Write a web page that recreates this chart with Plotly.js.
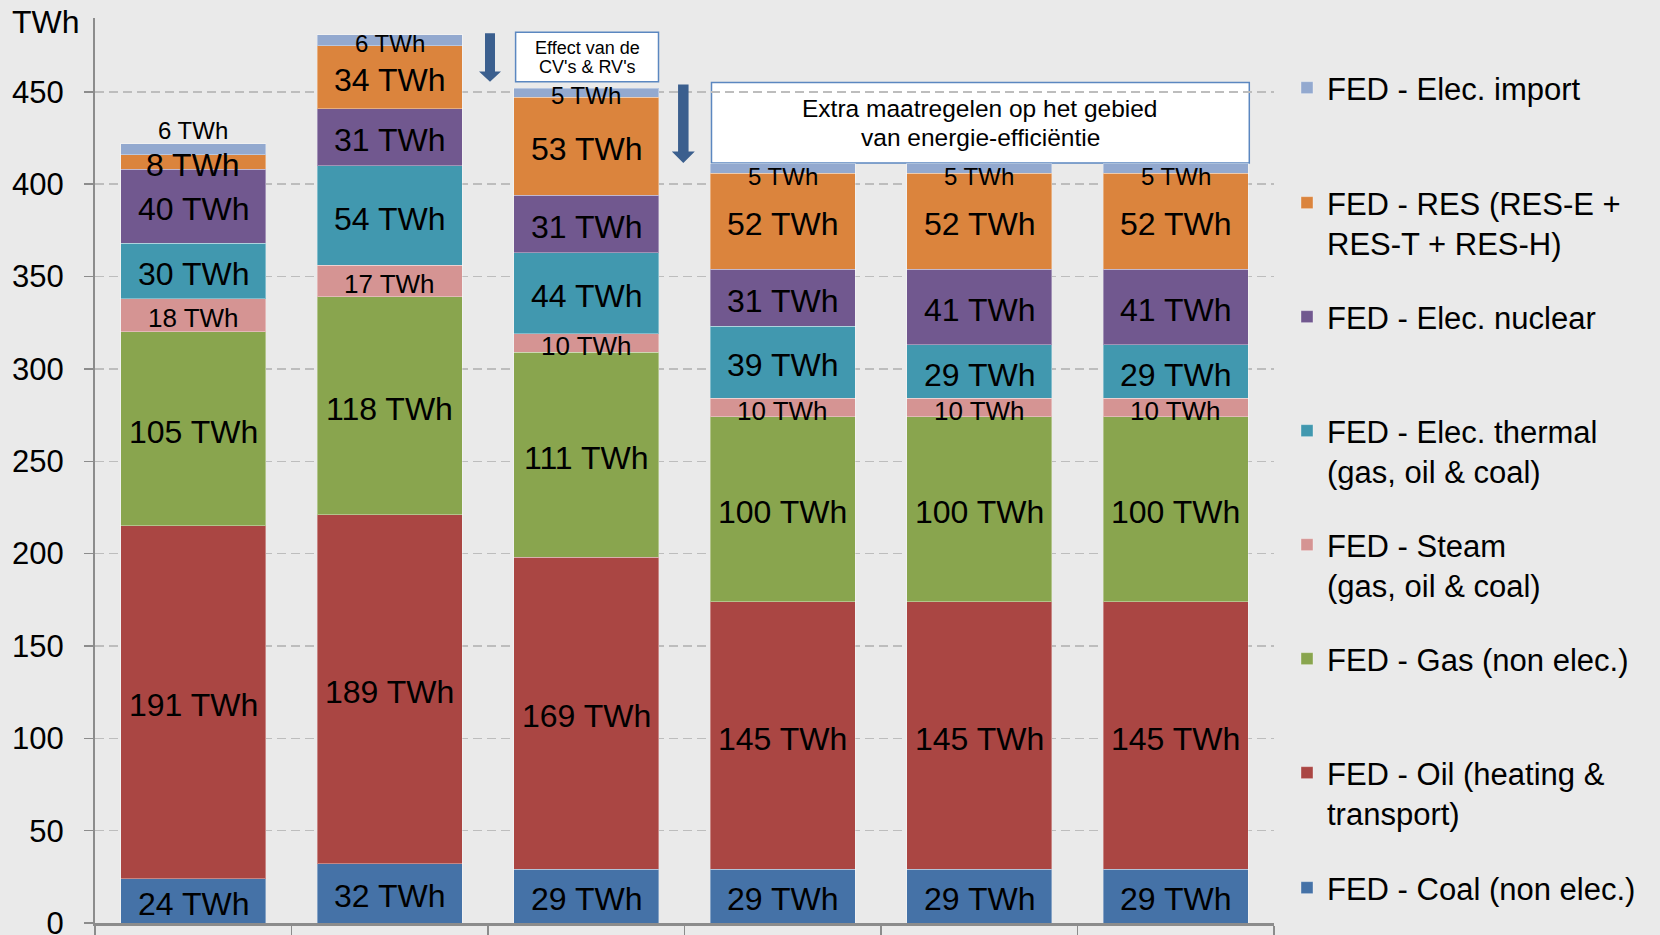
<!DOCTYPE html>
<html>
<head>
<meta charset="utf-8">
<script src="https://cdn.plot.ly/plotly-3.0.1.min.js"></script>
<style>
  html, body { margin: 0; padding: 0; background: #EAEAEA; }
  #chart { width: 1660px; height: 935px; }
</style>
</head>
<body>
<div id="chart"></div>
<script>
// Final energy demand per carrier, stacked per scenario (TWh)
const categories = ['A', 'B', 'C', 'D', 'E', 'F'];

const coal       = [24, 32, 29, 29, 29, 29];
const oil        = [191, 189, 169, 145, 145, 145];
const gas        = [105, 118, 111, 100, 100, 100];
const steam      = [18, 17, 10, 10, 10, 10];
const thermal    = [30, 54, 44, 39, 29, 29];
const nuclear    = [40, 31, 31, 31, 41, 41];
const renewables = [8, 34, 53, 52, 52, 52];
const elecImport = [6, 6, 5, 5, 5, 5];

const seriesNames = [
  'FED - Coal (non elec.)',
  'FED - Oil (heating &<br>transport)',
  'FED - Gas (non elec.)',
  'FED - Steam<br>(gas, oil & coal)',
  'FED - Elec. thermal<br>(gas, oil & coal)',
  'FED - Elec. nuclear',
  'FED - RES (RES-E +<br>RES-T + RES-H)',
  'FED - Elec. import'
];

const unitLabel = 'TWh';
const yTicks = [0, 50, 100, 150, 200, 250, 300, 350, 400, 450];
const noteCV = ['Effect van de', "CV's & RV's"];
const noteExtra = ['Extra maatregelen op het gebied', 'van energie-efficiëntie'];

// ---- styling ----
const FONT = 'Arial, "Liberation Sans", sans-serif';
const colors = ['#4572A7', '#AA4643', '#89A54E', '#D59493', '#4198AF', '#71588F', '#DB843D', '#93A9CF'];
const BIG = 32, SMALL = 24;

const series = [coal, oil, gas, steam, thermal, nuclear, renewables, elecImport];
const labelSize = [BIG, BIG, BIG, 26, BIG, BIG, BIG, SMALL];

// plot area geometry in pixels
const W = 1660, H = 935;
const M = { l: 95, r: 386, t: 18, b: 12 };
const PW = W - M.l - M.r, PH = H - M.t - M.b;
const xp = px => (px - M.l) / PW;
const yp = py => (H - M.b - py) / PH;

// legend rows (top edge, px) — one legend per series so rows can be spaced freely
const legendTops = [861, 746, 632, 518, 404, 290, 176, 61];

// stacked bars
const traces = series.map((vals, i) => ({
  type: 'bar',
  name: seriesNames[i],
  x: categories,
  y: vals,
  marker: { color: colors[i], line: { color: 'rgba(255,255,255,0.35)', width: 1 } },
  hoverinfo: 'skip',
  legend: i === 0 ? 'legend' : 'legend' + (i + 1)
}));

// value labels, centred on each segment and drawn above all bars;
// the thin top segment of the first bar carries its label just above the bar
const labelNotes = [];
let base = categories.map(() => 0);
series.forEach((vals, i) => {
  const isTop = i === series.length - 1;
  vals.forEach((v, j) => {
    const above = isTop && j === 0;
    labelNotes.push({
      xref: 'x', yref: 'y',
      x: categories[j],
      y: above ? base[j] + v : base[j] + v / 2,
      text: v + ' ' + unitLabel,
      showarrow: false,
      xanchor: 'center',
      yanchor: above ? 'bottom' : 'middle',
      yshift: above ? -2 : (isTop && j >= 3 ? -8 : -3),
      font: { family: FONT, size: labelSize[i], color: '#000000' }
    });
  });
  base = base.map((b, j) => b + vals[j]);
});

function arrowPath(cx, top, headStart, tip, shaftW, headW) {
  const sl = cx - shaftW / 2, sr = cx + shaftW / 2;
  const hl = cx - headW / 2, hr = cx + headW / 2;
  const pts = [[sl, top], [sr, top], [sr, headStart], [hr, headStart], [cx, tip], [hl, headStart], [sl, headStart]];
  return 'M' + pts.map(p => xp(p[0]).toFixed(5) + ',' + yp(p[1]).toFixed(5)).join(' L') + ' Z';
}

const arrowColor = '#3B5F8E';
const boxLine = '#5B87C0';

const shapes = [
  { type: 'rect', layer: 'between', xref: 'paper', yref: 'paper', x0: xp(515.6), x1: xp(658.5), y0: yp(81.7), y1: yp(32.3),
    fillcolor: '#FFFFFF', line: { color: boxLine, width: 1.5 } },
  { type: 'rect', layer: 'between', xref: 'paper', yref: 'paper', x0: xp(711.5), x1: xp(1249.3), y0: yp(163), y1: yp(82.6),
    fillcolor: '#FFFFFF', line: { color: boxLine, width: 1.5 } },
  { type: 'path', xref: 'paper', yref: 'paper', path: arrowPath(490, 33.3, 71.5, 81.7, 10, 22),
    fillcolor: arrowColor, line: { width: 0 } },
  { type: 'path', xref: 'paper', yref: 'paper', path: arrowPath(683.3, 84.5, 151.5, 163, 10.5, 23),
    fillcolor: arrowColor, line: { width: 0 } }
];

const textNote = (txt, cx, cy, size) => ({
  xref: 'paper', yref: 'paper', x: xp(cx), y: yp(cy), text: txt, showarrow: false,
  xanchor: 'center', yanchor: 'middle', font: { family: FONT, size: size, color: '#000000' }
});

const annotations = [
  { xref: 'paper', yref: 'paper', x: xp(10), y: yp(22.5), text: unitLabel, showarrow: false,
    xanchor: 'left', yanchor: 'middle', font: { family: FONT, size: 32, color: '#000000' } },
  textNote(noteCV[0], 587, 48, 18),
  textNote(noteCV[1], 587, 66.5, 18),
  textNote(noteExtra[0], 980.4, 109, 24.5),
  textNote(noteExtra[1], 980.4, 137.5, 24.5)
].concat(labelNotes);

const layout = {
  width: W, height: H,
  margin: M,
  paper_bgcolor: '#EAEAEA',
  plot_bgcolor: '#EAEAEA',
  barmode: 'stack',
  bargap: 0.262,
  font: { family: FONT, color: '#000000' },
  xaxis: {
    type: 'category',
    showticklabels: false,
    tickson: 'boundaries',
    ticks: 'outside', ticklen: 14, tickwidth: 1.5, tickcolor: '#8C8C8C',
    showline: true, linecolor: '#8C8C8C', linewidth: 2.5,
    showgrid: false, zeroline: false, fixedrange: true
  },
  yaxis: {
    range: [0, 490],
    tickvals: yTicks,
    ticktext: yTicks.map(String),
    ticks: 'outside', ticklen: 9, tickwidth: 1.5, tickcolor: '#8C8C8C',
    ticklabelstandoff: 14,
    ticklabeloverflow: 'allow',
    tickfont: { family: FONT, size: 31, color: '#000000' },
    showline: true, linecolor: '#8C8C8C', linewidth: 2,
    showgrid: true, gridcolor: '#BDBDBD', gridwidth: 1.5, griddash: '9px,5px',
    zeroline: false, fixedrange: true
  },
  shapes: shapes,
  annotations: annotations,
  showlegend: true
};

// one legend box per series
series.forEach((_, i) => {
  const key = i === 0 ? 'legend' : 'legend' + (i + 1);
  layout[key] = {
    x: xp(1287), y: yp(legendTops[i]), xanchor: 'left', yanchor: 'top',
    bgcolor: 'rgba(0,0,0,0)', borderwidth: 0, valign: 'top',
    font: { family: FONT, size: 31, color: '#000000' },
    itemclick: false, itemdoubleclick: false
  };
});

Plotly.newPlot('chart', traces, layout, { displayModeBar: false, staticPlot: true });
</script>
</body>
</html>
